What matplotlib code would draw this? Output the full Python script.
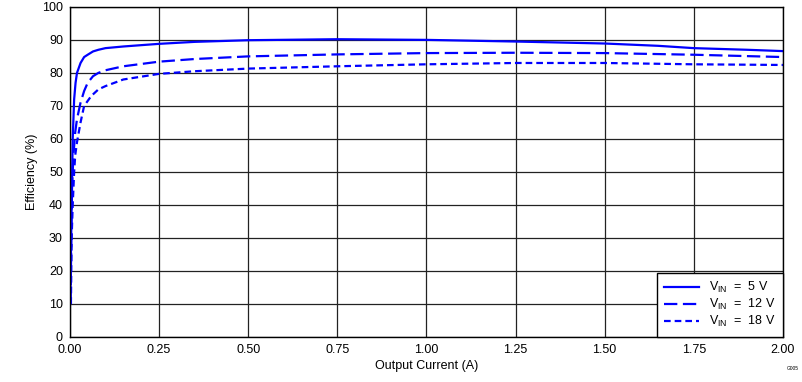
import matplotlib.pyplot as plt

plt.rcParams['font.family'] = ['Liberation Sans', 'DejaVu Sans']

# Output current (A) and efficiency (%) for each input voltage
i_5v = [0.001, 0.003, 0.005, 0.008, 0.012, 0.016, 0.02, 0.03, 0.04, 0.05, 0.065, 0.08, 0.1, 0.15,
        0.25, 0.35, 0.5, 0.75, 1.0, 1.25, 1.5, 1.65, 1.75, 1.9, 2.0]
eff_5v = [10, 25, 40, 60, 72, 77, 80, 83, 84.8, 85.5, 86.5, 87, 87.5, 88,
          88.8, 89.4, 89.9, 90.2, 90.0, 89.5, 88.9, 88.2, 87.5, 87.0, 86.6]

i_12v = [0.002, 0.004, 0.006, 0.01, 0.015, 0.02, 0.03, 0.04, 0.05, 0.065, 0.08, 0.1, 0.15,
         0.25, 0.35, 0.5, 0.75, 1.0, 1.25, 1.5, 1.75, 2.0]
eff_12v = [10, 30, 45, 55, 62, 66, 71, 74.5, 77, 79, 80, 80.8, 82,
           83.4, 84.2, 85, 85.6, 86.0, 86.1, 86.0, 85.5, 84.8]

i_18v = [0.003, 0.005, 0.008, 0.012, 0.015, 0.02, 0.025, 0.03, 0.04, 0.05, 0.06, 0.08, 0.1, 0.15,
         0.25, 0.35, 0.5, 0.75, 1.0, 1.25, 1.5, 1.75, 2.0]
eff_18v = [10, 30, 40, 50, 55, 59, 62, 65, 70, 71.5, 73, 75, 76, 78,
           79.7, 80.5, 81.3, 82, 82.6, 83, 83, 82.6, 82.4]

x_ticks = [0, 0.25, 0.5, 0.75, 1.0, 1.25, 1.5, 1.75, 2.0]
y_ticks = list(range(0, 101, 10))

fig = plt.figure(figsize=(8.03, 3.82), dpi=100)
ax = fig.add_axes([0.087, 0.118, 0.888, 0.864])

blue = '#0000ff'
ax.plot(i_5v, eff_5v, color=blue, lw=1.6, label=r'V$_{\mathregular{IN}}$  =  5 V')
ax.plot(i_12v, eff_12v, color=blue, lw=1.6, dashes=(6, 2.5), label=r'V$_{\mathregular{IN}}$  =  12 V')
ax.plot(i_18v, eff_18v, color=blue, lw=1.6, dashes=(3, 1.8), label=r'V$_{\mathregular{IN}}$  =  18 V')

ax.set_xlim(0, 2)
ax.set_ylim(0, 100)
ax.set_xticks(x_ticks)
ax.set_xticklabels(['%.2f' % v for v in x_ticks])
ax.set_yticks(y_ticks)
ax.tick_params(axis='x', length=0, labelsize=9, pad=5)
ax.tick_params(axis='y', length=0, labelsize=9, pad=5)
ax.grid(True, color='#222222', lw=0.9)
for s in ax.spines.values():
    s.set_color('black')
    s.set_linewidth(1.0)

ax.set_xlabel('Output Current (A)', fontsize=9, labelpad=3)
ax.set_ylabel('Efficiency (%)', fontsize=9, labelpad=3)

leg = ax.legend(loc='lower right', fontsize=9, fancybox=False, framealpha=1,
                edgecolor='black', handlelength=2.8, borderaxespad=0.0,
                labelspacing=0.15, borderpad=0.6)
leg.get_frame().set_linewidth(1.0)

fig.text(0.995, 0.03, 'G005', fontsize=3.5, ha='right', va='bottom')

plt.savefig('out.png', dpi=100)
